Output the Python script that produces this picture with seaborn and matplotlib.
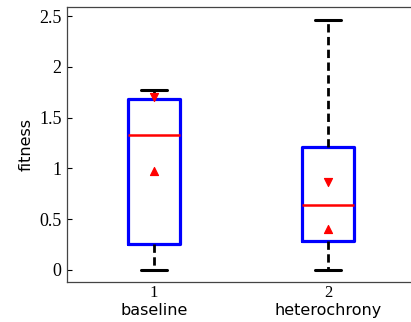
import numpy as np
import pandas as pd
import matplotlib
matplotlib.use("Agg")
import matplotlib.pyplot as plt
import seaborn as sns

# five-number summaries (min, q1, median, q3, max)
groups = ["baseline", "heterochrony"]
baseline_vals = [0.0, 0.255, 1.33, 1.68, 1.77]
hetero_vals = [0.0, 0.285, 0.635, 1.21, 2.46]
# notch markers (upper / lower)
notch_hi = [1.70, 0.87]
notch_lo = [0.97, 0.40]
tick_labels = ["1", "2"]

df = pd.DataFrame({
    "group": [groups[0]] * len(baseline_vals) + [groups[1]] * len(hetero_vals),
    "fitness": baseline_vals + hetero_vals,
})
notch = pd.DataFrame({"group": groups, "hi": notch_hi, "lo": notch_lo})

sns.set_style("white")
plt.rcParams["font.family"] = ["DejaVu Sans"]
plt.rcParams["text.color"] = "black"
plt.rcParams["axes.labelcolor"] = "black"
plt.rcParams["xtick.color"] = "black"
plt.rcParams["ytick.color"] = "black"

fig = plt.figure(figsize=(4.11, 3.22), dpi=100)
ax = fig.add_axes([67 / 411, 40 / 322, 348 / 411, 275 / 322])

sns.boxplot(data=df, x="group", y="fitness", whis=np.inf, width=0.3,
            fill=False, linewidth=2.2, ax=ax,
            boxprops=dict(color="#0000ff", linewidth=2.3),
            whiskerprops=dict(color="black", linewidth=2.0, linestyle=(0, (3, 1.6))),
            capprops=dict(color="black", linewidth=2.2),
            medianprops=dict(color="#ff0000", linewidth=1.8))

sns.scatterplot(data=notch, x="group", y="hi", marker="v", color="#ff0000",
                s=34, edgecolor="#ff0000", linewidth=0.8, ax=ax, zorder=5)
sns.scatterplot(data=notch, x="group", y="lo", marker="^", color="#ff0000",
                s=34, edgecolor="#ff0000", linewidth=0.8, ax=ax, zorder=5)

ax.set_xlim(-0.5, 1.5)
ax.set_ylim(-0.12, 2.59)
ax.set_yticks([0, 0.5, 1, 1.5, 2, 2.5])
ax.set_yticklabels(["0", "0.5", "1", "1.5", "2", "2.5"],
                   family="Liberation Serif", fontsize=13)
ax.set_xticks([0, 1])
ax.set_xticklabels(tick_labels, family="Liberation Serif", fontsize=12)
ax.tick_params(axis="y", direction="in", length=3.5, width=0.8, left=True, pad=4)
ax.tick_params(axis="x", length=0, pad=2)
ax.set_xlabel("")
ax.set_ylabel("fitness", fontsize=11.5, labelpad=4)

for i, g in enumerate(groups):
    ax.text(i, -0.105, g, transform=ax.get_xaxis_transform(), ha="center",
            va="center", fontsize=11.5)

for side in ["left", "top", "bottom"]:
    ax.spines[side].set_color("#444444")
    ax.spines[side].set_linewidth(0.9)
ax.spines["right"].set_visible(False)

fig.savefig("out.png", dpi=100)
